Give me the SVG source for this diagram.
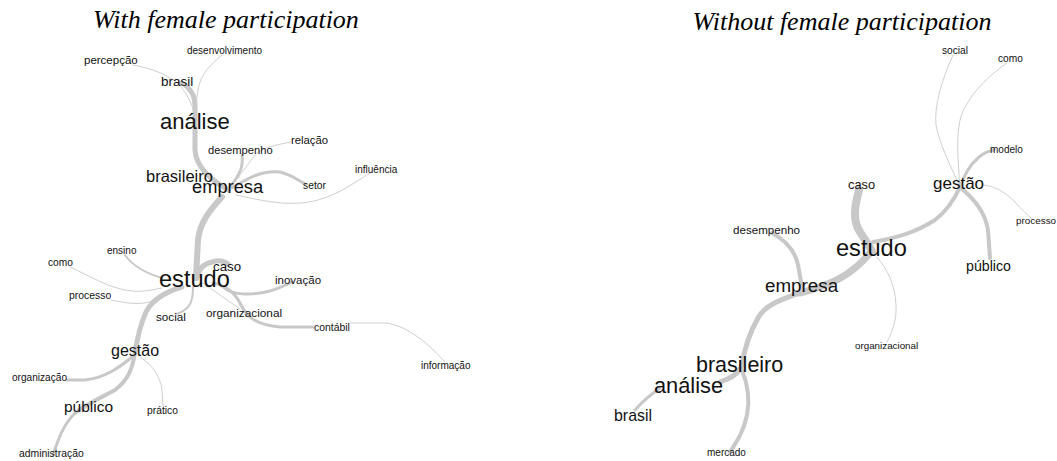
<svg xmlns="http://www.w3.org/2000/svg" width="1057" height="461" viewBox="0 0 1057 461">
<style>
.t{font-family:"Liberation Serif","Times New Roman",serif;font-style:italic;font-size:26px;fill:#000}
.n{font-family:"Liberation Sans",Arial,sans-serif;fill:#111}
.e{fill:none;stroke:#c8c8c8;stroke-linecap:round}
.w1{stroke-width:1;stroke:#cfcfcf}
.w2{stroke-width:2}
.w3{stroke-width:3}
.w4{stroke-width:4}
.w5{stroke-width:5}
.w6{stroke-width:6}
.w7{stroke-width:7}
.w8{stroke-width:8}
</style>
<rect width="1057" height="461" fill="#fff"/>
<text class="t" x="226" y="28" text-anchor="middle">With female participation</text>
<text class="t" x="842" y="30" text-anchor="middle">Without female participation</text>

<g id="connectors">
<!-- left graph -->
<path class="e w5" d="M182,83 C190,88 195,95 195,105 L195,150 C196,168 212,180 228,190"/>
<path class="e w1" d="M133,65 C150,68 172,75 182,88 C188,96 192,104 194,112"/>
<path class="e w1" d="M222,55 C210,65 200,75 198,90 L196,105"/>
<path class="e w3" d="M242,155 C243,165 242,172 230,187"/>
<path class="e w1" d="M291,142 C275,145 262,148 255,155 C250,162 245,168 238,178"/>
<path class="e w3" d="M232,188 C245,180 260,170 280,172 C290,174 298,180 305,184"/>
<path class="e w1" d="M236,195 C260,200 290,208 318,200 C340,194 355,182 370,173"/>
<path class="e w6" d="M222,197 C210,210 200,222 198,240 L196,278"/>
<path class="e w5" d="M197,278 C198,270 203,264 212,262 C218,260 224,261 228,264"/>
<path class="e w2" d="M125,255 C132,265 145,273 162,278"/>
<path class="e w1" d="M70,267 C90,276 105,286 125,290 C140,293 152,290 162,288"/>
<path class="e w1" d="M111,300 C125,303 138,305 150,302 C160,299 170,293 178,288"/>
<path class="e w5" d="M182,287 C165,292 152,300 146,312 C140,325 137,340 135,353"/>
<path class="e w4" d="M135,353 C132,370 128,380 115,390 C100,398 85,405 75,413"/>
<path class="e w3" d="M75,413 C63,425 58,440 53,455"/>
<path class="e w2" d="M193,287 C193,297 192,303 188,307 C185,310 180,313 176,314"/>
<path class="e w1" d="M203,283 C215,292 228,300 240,309"/>
<path class="e w3" d="M213,283 C225,285 235,293 240,303 C246,316 255,325 280,327 L313,327"/>
<path class="e w1" d="M350,323 L385,323 C405,325 425,340 445,362"/>
<path class="e w3" d="M223,287 C232,295 250,296 270,291 C280,288 286,285 292,282"/>
<path class="e w3" d="M132,357 C120,367 105,378 85,380 L67,380"/>
<path class="e w1" d="M140,357 C152,365 160,375 162,390 L163,405"/>
<!-- right graph -->
<path class="e w8" d="M859,190 C855,205 852,220 860,232 C865,240 870,246 872,252"/>
<path class="e w7" d="M870,253 C860,265 845,278 825,285 C815,289 808,291 800,293"/>
<path class="e w4" d="M772,233 C785,240 795,250 798,265 L802,287"/>
<path class="e w5" d="M800,293 C780,300 765,305 758,318 C750,332 745,345 742,365 C738,375 730,378 720,382"/>
<path class="e w3" d="M660,388 C650,395 642,402 635,410"/>
<path class="e w4" d="M742,370 C748,385 750,400 747,415 C744,430 738,440 730,452"/>
<path class="e w4" d="M873,242 C895,238 915,233 935,220 C948,210 955,198 960,187"/>
<path class="e w4" d="M960,187 C975,200 985,212 988,230 L990,258"/>
<path class="e w3" d="M960,187 C964,175 970,165 978,158 C983,153 988,151 994,150"/>
<path class="e w1" d="M960,187 C950,165 940,145 936,125 C934,105 942,80 953,55"/>
<path class="e w1" d="M960,187 C958,160 956,140 960,120 C965,100 985,78 1007,63"/>
<path class="e w1" d="M983,185 C995,186 1005,192 1015,202 C1022,210 1028,215 1032,219"/>
<path class="e w1" d="M877,257 C888,270 895,285 896,305 C897,320 892,332 887,342"/>
</g>

<g id="L-desenvolvimento"><text class="n" x="187" y="54" font-size="10">desenvolvimento</text></g>
<g id="L-percepcao"><text class="n" x="84" y="64" font-size="11.5">percepção</text></g>
<g id="L-brasil"><text class="n" x="161" y="86" font-size="13.5">brasil</text></g>
<g id="L-analise"><text class="n" x="160" y="129" font-size="22">análise</text></g>
<g id="L-relacao"><text class="n" x="291" y="144" font-size="11.3">relação</text></g>
<g id="L-desempenho"><text class="n" x="208" y="154" font-size="11.2">desempenho</text></g>
<g id="L-brasileiro"><text class="n" x="146" y="182" font-size="16.5">brasileiro</text></g>
<g id="L-empresa"><text class="n" x="192" y="193" font-size="18.3">empresa</text></g>
<g id="L-setor"><text class="n" x="303" y="189" font-size="10.3">setor</text></g>
<g id="L-influencia"><text class="n" x="355" y="173" font-size="10">influência</text></g>
<g id="L-ensino"><text class="n" x="107" y="254" font-size="10">ensino</text></g>
<g id="L-como"><text class="n" x="48" y="266" font-size="10.2">como</text></g>
<g id="L-caso"><text class="n" x="213" y="271" font-size="13.3">caso</text></g>
<g id="L-estudo"><text class="n" x="159" y="287" font-size="23.6">estudo</text></g>
<g id="L-inovacao"><text class="n" x="275" y="284" font-size="11.5">inovação</text></g>
<g id="L-processo"><text class="n" x="69" y="299" font-size="10.4">processo</text></g>
<g id="L-social"><text class="n" x="156" y="321" font-size="11.7">social</text></g>
<g id="L-organizacional"><text class="n" x="206" y="317" font-size="11.8">organizacional</text></g>
<g id="L-contabil"><text class="n" x="314" y="331" font-size="10.4">contábil</text></g>
<g id="L-informacao"><text class="n" x="421" y="369" font-size="10">informação</text></g>
<g id="L-gestao"><text class="n" x="111" y="356" font-size="16">gestão</text></g>
<g id="L-organizacao"><text class="n" x="12" y="381" font-size="10.1">organização</text></g>
<g id="L-publico"><text class="n" x="64" y="412" font-size="15.5">público</text></g>
<g id="L-pratico"><text class="n" x="147" y="414" font-size="10.3">prático</text></g>
<g id="L-administracao"><text class="n" x="19" y="457" font-size="10.4">administração</text></g>

<g id="R-social"><text class="n" x="942" y="54" font-size="10.2">social</text></g>
<g id="R-como"><text class="n" x="998" y="62" font-size="10.2">como</text></g>
<g id="R-modelo"><text class="n" x="990" y="153" font-size="10">modelo</text></g>
<g id="R-caso"><text class="n" x="848" y="189" font-size="12.8">caso</text></g>
<g id="R-gestao"><text class="n" x="933" y="189" font-size="17">gestão</text></g>
<g id="R-processo"><text class="n" x="1016" y="224" font-size="9.9">processo</text></g>
<g id="R-desempenho"><text class="n" x="733" y="234" font-size="11.6">desempenho</text></g>
<g id="R-estudo"><text class="n" x="836" y="256" font-size="23.6">estudo</text></g>
<g id="R-publico"><text class="n" x="966" y="271" font-size="14.2">público</text></g>
<g id="R-empresa"><text class="n" x="765" y="292" font-size="18.8">empresa</text></g>
<g id="R-organizacional"><text class="n" x="855" y="349" font-size="9.8">organizacional</text></g>
<g id="R-brasileiro"><text class="n" x="696" y="372" font-size="21.5">brasileiro</text></g>
<g id="R-analise"><text class="n" x="654" y="393" font-size="21.8">análise</text></g>
<g id="R-brasil"><text class="n" x="614" y="421" font-size="15.9">brasil</text></g>
<g id="R-mercado"><text class="n" x="707" y="456" font-size="10">mercado</text></g>
</svg>
